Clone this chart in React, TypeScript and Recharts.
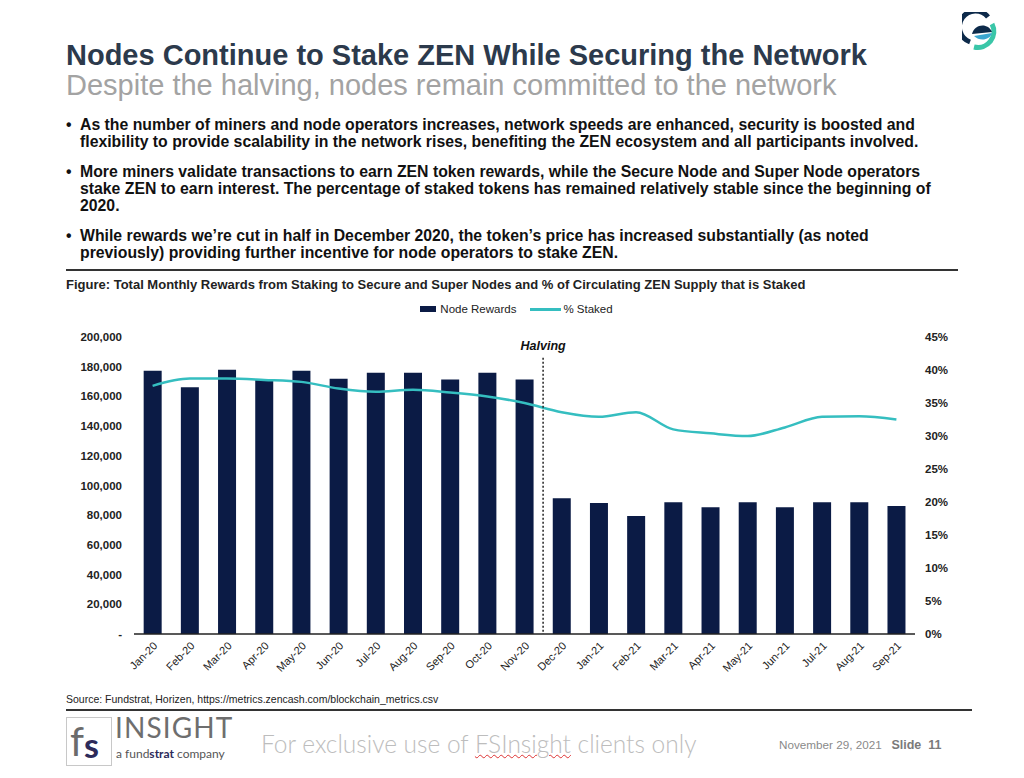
import React from 'react';
import { ComposedChart, Bar, Line, XAxis, YAxis, Legend, ReferenceLine } from 'recharts';

const months = [
  'Jan-20', 'Feb-20', 'Mar-20', 'Apr-20', 'May-20', 'Jun-20', 'Jul-20', 'Aug-20', 'Sep-20', 'Oct-20', 'Nov-20',
  'Dec-20', 'Jan-21', 'Feb-21', 'Mar-21', 'Apr-21', 'May-21', 'Jun-21', 'Jul-21', 'Aug-21', 'Sep-21',
];
const nodeRewards = [
  177300, 166100, 178000, 171000, 177300, 171900, 176000, 176000, 171300, 176000, 171300,
  91400, 88200, 79500, 88700, 85300, 88700, 85300, 88700, 88700, 86200,
];
const pctStaked = [
  37.6, 38.7, 38.7, 38.5, 38.2, 37.2, 36.7, 37.0, 36.6, 36.0, 35.0,
  33.6, 32.9, 33.6, 31.0, 30.4, 30.0, 31.3, 32.9, 33.0, 32.5,
];
const leftTicks = [0, 20000, 40000, 60000, 80000, 100000, 120000, 140000, 160000, 180000, 200000];
const rightTicks = [0, 5, 10, 15, 20, 25, 30, 35, 40, 45];
const halvingMonth = 'Dec-20';

const data = months.map((m, i) => ({ month: m, rewards: nodeRewards[i], staked: pctStaked[i] }));

const NAVY = '#0b1b45';
const TEAL = '#35bec0';
const FONT = '"Liberation Sans", Arial, sans-serif';

const LegendContent = () => (
  <div style={{ display: 'flex', justifyContent: 'center', alignItems: 'center', fontFamily: FONT, fontSize: 11.5, color: '#222', paddingLeft: 4 }}>
    <span style={{ display: 'inline-block', width: 16, height: 6, background: NAVY, marginRight: 4 }} />
    <span style={{ marginRight: 14 }}>Node Rewards</span>
    <span style={{ display: 'inline-block', width: 31, height: 3, background: TEAL, marginRight: 2 }} />
    <span>% Staked</span>
  </div>
);

const Logo = () => (
  <svg width={40} height={40} viewBox="0 0 40 40" style={{ position: 'absolute', left: 962, top: 12 }}>
    <path d="M 26 5 A 16 16 0 1 0 8 30" fill="none" stroke="#0d2a4a" strokeWidth={5} />
    <path d="M 30 12 A 16 16 0 0 1 12 35" fill="none" stroke="#3ac6a8" strokeWidth={5} />
    <path d="M 10 22 C 12 12, 26 10, 30 20 Z" fill="#0d2a4a" />
    <path d="M 12 24 C 18 30, 28 28, 30 21 Z" fill="#3aa6d0" />
  </svg>
);

export default function App() {
  return (
    <div style={{ position: 'absolute', left: 0, top: 0, width: 1024, height: 778, background: '#fff', fontFamily: FONT, overflow: 'hidden' }}>
      <Logo />
      <div style={{ position: 'absolute', left: 66, top: 41, fontSize: 29, lineHeight: '29px', fontWeight: 'bold', color: '#2c3a4c', whiteSpace: 'nowrap' }}>
        Nodes Continue to Stake ZEN While Securing the Network
      </div>
      <div style={{ position: 'absolute', left: 66, top: 71, fontSize: 29, lineHeight: '29px', color: '#a3a3a3', whiteSpace: 'nowrap' }}>
        Despite the halving, nodes remain committed to the network
      </div>
      <div style={{ position: 'absolute', left: 66, top: 116, fontSize: 15.8, lineHeight: '17px', fontWeight: 'bold', color: '#111', whiteSpace: 'nowrap' }}>
        {[
          ['As the number of miners and node operators increases, network speeds are enhanced, security is boosted and',
            'flexibility to provide scalability in the network rises, benefiting the ZEN ecosystem and all participants involved.'],
          ['More miners validate transactions to earn ZEN token rewards, while the Secure Node and Super Node operators',
            'stake ZEN to earn interest. The percentage of staked tokens has remained relatively stable since the beginning of',
            '2020.'],
          ['While rewards we\u2019re cut in half in December 2020, the token\u2019s price has increased substantially (as noted',
            'previously) providing further incentive for node operators to stake ZEN.'],
        ].map((lines, i) => (
          <div key={i} style={{ position: 'relative', paddingLeft: 14, marginBottom: 13 }}>
            <span style={{ position: 'absolute', left: 0, top: 0 }}>{'\u2022'}</span>
            {lines.map((l, j) => <div key={j}>{l}</div>)}
          </div>
        ))}
      </div>
      <div style={{ position: 'absolute', left: 66, top: 269, width: 892, height: 2, background: '#333' }} />
      <div style={{ position: 'absolute', left: 66, top: 277, fontSize: 13, lineHeight: '15px', fontWeight: 'bold', color: '#222', whiteSpace: 'nowrap' }}>
        Figure: Total Monthly Rewards from Staking to Secure and Super Nodes and % of Circulating ZEN Supply that is Staked
      </div>

      <div style={{ position: 'absolute', left: 0, top: 295 }}>
        <ComposedChart width={1024} height={400} data={data} margin={{ top: 6, right: 49, bottom: 5, left: 54 }} barCategoryGap="26%">
          <Legend verticalAlign="top" height={36} wrapperStyle={{ top: 8 }} content={<LegendContent />} />
          <XAxis
            dataKey="month"
            interval={0}
            angle={-45}
            textAnchor="end"
            height={56}
            tickSize={0}
            tickMargin={7}
            tick={{ fontSize: 11, fill: '#222', fontFamily: FONT }}
            axisLine={{ stroke: '#222', strokeWidth: 1.5 }}
            tickLine={false}
          />
          <YAxis
            yAxisId="left"
            domain={[0, 200000]}
            ticks={leftTicks}
            width={80}
            tickSize={0}
            tickMargin={12}
            axisLine={false}
            tickLine={false}
            tick={{ fontSize: 11.5, fontWeight: 'bold', fill: '#222', fontFamily: FONT }}
            tickFormatter={(v: number) => (v === 0 ? '-' : v.toLocaleString('en-US'))}
          />
          <YAxis
            yAxisId="right"
            orientation="right"
            domain={[0, 45]}
            ticks={rightTicks}
            width={60}
            tickSize={0}
            tickMargin={10}
            axisLine={false}
            tickLine={false}
            tick={{ fontSize: 11.5, fontWeight: 'bold', fill: '#222', fontFamily: FONT, textAnchor: 'start' }}
            tickFormatter={(v: number) => `${v}%`}
          />
          <Bar yAxisId="left" dataKey="rewards" name="Node Rewards" fill={NAVY} isAnimationActive={false} />
          <Line yAxisId="right" dataKey="staked" name="% Staked" type="monotone" stroke={TEAL} strokeWidth={2.5} dot={false} isAnimationActive={false} />
          <ReferenceLine
            yAxisId="left"
            position="start"
            segment={[{ x: halvingMonth, y: 186000 }, { x: halvingMonth, y: 0 }]}
            stroke="#222"
            strokeWidth={1.5}
            strokeDasharray="2 2"
            label={{ value: 'Halving', position: 'top', offset: 8, fill: '#111', fontSize: 12.5, fontWeight: 'bold', fontStyle: 'italic', fontFamily: FONT }}
          />
        </ComposedChart>
      </div>

      <div style={{ position: 'absolute', left: 66, top: 693, fontSize: 10.5, lineHeight: '13px', color: '#222', whiteSpace: 'nowrap' }}>
        Source: Fundstrat, Horizen, https://metrics.zencash.com/blockchain_metrics.csv
      </div>
      <div style={{ position: 'absolute', left: 66, top: 709, width: 906, height: 2, background: '#333' }} />

      <div style={{ position: 'absolute', left: 66, top: 717, width: 46, height: 49, border: '1px solid #c8c8c8', boxSizing: 'border-box' }}>
        <span style={{ position: 'absolute', left: 3, top: 3, fontFamily: 'Lato, sans-serif', fontSize: 40, lineHeight: '40px', color: '#6b6b6b' }}>f</span>
        <span style={{ position: 'absolute', left: 17, top: 9, fontFamily: 'Lato, sans-serif', fontSize: 34, lineHeight: '36px', fontWeight: 'bold', color: '#2d2b5a' }}>s</span>
      </div>
      <div style={{ position: 'absolute', left: 115, top: 713, fontFamily: 'Lato, sans-serif', fontSize: 28, lineHeight: '28px', color: '#6e6e6e', letterSpacing: 1.1 }}>INSIGHT</div>
      <div style={{ position: 'absolute', left: 116, top: 747, fontFamily: 'Lato, sans-serif', fontSize: 12, lineHeight: '13px', color: '#555', whiteSpace: 'nowrap' }}>
        a fund<b style={{ color: '#2d2b5a' }}>strat</b> company
      </div>
      <div style={{ position: 'absolute', left: 261, top: 730, fontFamily: 'Lato, sans-serif', fontSize: 24.5, lineHeight: '28px', color: '#bdbdbd', whiteSpace: 'nowrap', fontWeight: 300 }}>
        For exclusive use of <span style={{ textDecoration: 'underline wavy #d33', textDecorationThickness: 1 }}>FSInsight</span> clients only
      </div>
      <div style={{ position: 'absolute', left: 779, top: 737, fontSize: 11.7, lineHeight: '15px', color: '#8a8a8a', whiteSpace: 'nowrap' }}>
        November 29, 2021&nbsp;&nbsp;&nbsp;<b style={{ fontSize: 12.5, color: '#7a7a7a' }}>Slide&nbsp;&nbsp;11</b>
      </div>
    </div>
  );
}
